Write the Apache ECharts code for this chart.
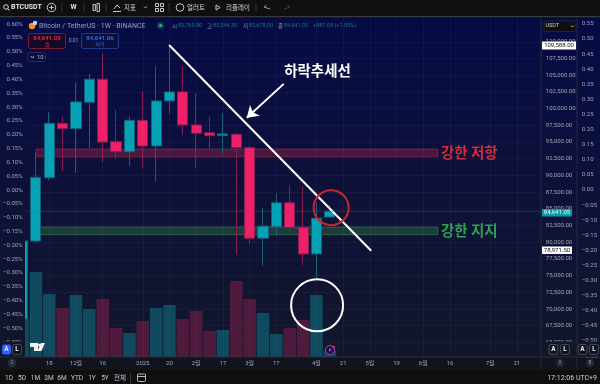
<!DOCTYPE html>
<html>
<head>
<meta charset="utf-8">
<style>html,body{margin:0;padding:0;background:#0f0f0f}#main{width:600px;height:384px}</style>
<script src="https://cdn.jsdelivr.net/npm/echarts@6/dist/echarts.min.js"></script>
</head>
<body>
<div id="main"></div>
<script>
// weekly candles: [index, open, close, low, high]
var candles = [
  [0, 68500, 80170, 66800, 81500], [1, 80170, 89716, 79900, 93350], [2, 89650, 97800, 89300, 99500],
  [3, 97800, 97000, 90700, 98800], [4, 97000, 101000, 90400, 103900], [5, 100950, 104400, 94100, 105200],
  [6, 104400, 95000, 92050, 108300], [7, 95050, 93550, 92450, 99800], [8, 93550, 98250, 91400, 98850],
  [9, 98250, 94400, 91050, 102600], [10, 94400, 101150, 89050, 106400], [11, 101150, 102500, 99300, 109500],
  [12, 102500, 97550, 96050, 106400], [13, 97550, 96300, 91150, 102300], [14, 96400, 95950, 93900, 98800],
  [15, 95950, 96200, 93300, 99350], [16, 96150, 94150, 78100, 96350], [17, 94150, 80600, 79850, 94300],
  [18, 80600, 82400, 76450, 85150], [19, 82300, 85900, 80900, 87300], [20, 85900, 82200, 81400, 88550],
  [21, 82200, 78250, 76600, 88400], [22, 78250, 83600, 74650, 85900], [23, 83760, 84641.05, 83678, 85544.3]
];
var volumes = [38, 85, 63, 49, 62, 48, 58, 29, 24, 36, 49, 52, 38, 46, 26, 27, 76, 58, 44, 23, 29, 37, 62, 6];

var timeTickIndex = [2, 4, 6, 9, 11, 13, 15, 17, 19, 22, 24, 26, 28, 30, 32, 35, 37];
var timeTickText = ['18', '12월', '16', '2025', '20', '2월', '17', '3월', '17', '4월', '21', '5월', '19', '6월', '16', '7월', '21'];
var priceTicks = [65000, 67500, 70000, 72500, 75000, 77500, 80000, 82500, 85000, 87500, 90000, 92500, 95000, 97500, 100000, 102500, 105000, 107500, 110000];
var leftPctTicks = [0.6, 0.55, 0.5, 0.45, 0.4, 0.35, 0.3, 0.25, 0.2, 0.15, 0.1, 0.05, 0, -0.05, -0.1, -0.15, -0.2, -0.25, -0.3, -0.35, -0.4, -0.45, -0.5, -0.55];
var rightPctTicks = [0.55, 0.5, 0.45, 0.4, 0.35, 0.3, 0.25, 0.2, 0.15, 0.1, 0.05, 0, -0.05, -0.1, -0.15, -0.2, -0.25, -0.3, -0.35, -0.4, -0.45, -0.5, -0.55];

// drawn annotations, in chart coordinates
var lastPrice = 84641.05;
var resistZone = [1, 31.1, 93950, 92800];
var supportZone = [1, 31.1, 82275, 81120];
var trendLine = [[10.97, 109520], [26.1, 78730]];
var arrowLine = [[19.55, 103700], [16.79, 98630]];
var redCircle = [23.1, 85170];
var whiteCircle = [22.05, 70555];

var TEAL = '#04a2b4', TEAL_DIM = '#175f78', RED = '#ee2068', RED_DIM = '#871c50';
var FONT = 'Roboto, "Noto Sans CJK KR", sans-serif';
var KR = '"Noto Sans CJK KR", sans-serif';
var AXIS_TXT = '#9ea6b6';
var bgStops = [
  { offset: 0.04, color: '#050a44' }, { offset: 0.33, color: '#0b0f3e' },
  { offset: 0.62, color: '#0f1335' }, { offset: 0.93, color: '#12162b' }
];

function txt(x, y, text, size, color, extra) {
  var style = { x: x, y: y, text: text, fontSize: size, fill: color, fontFamily: FONT, textVerticalAlign: 'middle' };
  for (var k in (extra || {})) style[k] = extra[k];
  return { type: 'text', z: 120, silent: true, style: style };
}
function box(x, y, w, h, fill, stroke, r, z) {
  return { type: 'rect', z: z || 110, silent: true, shape: { x: x, y: y, width: w, height: h, r: r || 0 },
    style: { fill: fill, stroke: stroke || 'none', lineWidth: 1 } };
}
function seg(x1, y1, x2, y2, color, w) {
  return { type: 'line', z: 115, silent: true, shape: { x1: x1, y1: y1, x2: x2, y2: y2 }, style: { stroke: color, lineWidth: w || 1 } };
}
function ring(x, y, r, color, fill, w) {
  return { type: 'circle', z: 115, silent: true, shape: { cx: x, cy: y, r: r }, style: { stroke: color, fill: fill || 'none', lineWidth: w || 1 } };
}
function alBtn(x, y, t, on) {
  return [box(x, y, 9, 10, on ? '#2962ff' : '#12151f', on ? 'none' : '#454a58', 2),
    txt(x + 4.5, y + 5, t, 6.5, '#e8eaf0', { textAlign: 'center', fontWeight: 'bold' })];
}

var gfx = [
  // bars top and bottom
  box(0, 0, 600, 16, '#0f0f0f'), box(0, 16, 600, 1.2, '#3a3a3a'),
  box(0, 357, 600, 13, '#11141f', null, 0, 5), seg(0, 357, 600, 357, '#2a2e3a'),
  box(0, 370, 600, 14, '#0f0f0f'),
  // left margin panel, hides the clipped part of the first candle; axis labels sit above it
  box(0, 17, 25, 340, { type: 'linear', x: 0, y: 0, x2: 0, y2: 384, global: true, colorStops: bgStops }, null, 0, 5),
  // strips that hide labels behind the A/L buttons
  box(0, 341.5, 24.5, 15.5, '#12162b'), box(541.5, 341.5, 58.5, 15.5, '#12162b'),
  seg(541, 17, 541, 370, '#262b3d'), seg(577, 17, 577, 370, '#262b3d'),

  // top toolbar
  ring(6, 7, 2.3, '#d8d8d8', 'none', 1), seg(7.7, 8.7, 9.6, 10.6, '#d8d8d8'),
  txt(11, 7.5, 'BTCUSDT', 7, '#e6e6e6', { fontWeight: 'bold' }),
  ring(51.5, 7.5, 4.2, '#c8c8c8'), seg(49.3, 7.5, 53.7, 7.5, '#c8c8c8'), seg(51.5, 5.3, 51.5, 9.7, '#c8c8c8'),
  seg(62, 3, 62, 12, '#333'),
  txt(73.5, 7.5, 'W', 7, '#e0e0e0', { textAlign: 'center', fontWeight: 'bold' }),
  seg(84, 3, 84, 12, '#333'),
  box(93, 4.5, 2.4, 6, 'none', '#c8c8c8'), box(97, 3.5, 2.4, 8, 'none', '#c8c8c8'),
  seg(106, 3, 106, 12, '#333'),
  seg(113, 11.5, 121, 11.5, '#c8c8c8'), seg(114, 9, 117, 5, '#c8c8c8'), seg(117, 5, 120, 8, '#c8c8c8'),
  txt(124, 7.5, '지표', 6.5, '#d8d8d8', { fontFamily: KR }),
  seg(144, 6.5, 145.5, 8, '#aaa'), seg(145.5, 8, 147, 6.5, '#aaa'),
  box(155.5, 3.5, 3, 3, 'none', '#c8c8c8'), box(160.5, 3.5, 3, 3, 'none', '#c8c8c8'),
  box(155.5, 8.5, 3, 3, 'none', '#c8c8c8'), box(160.5, 8.5, 3, 3, 'none', '#c8c8c8'),
  seg(169, 3, 169, 12, '#333'),
  ring(180, 7.5, 3.8, '#c8c8c8'),
  txt(187, 7.5, '얼러트', 6.5, '#d8d8d8', { fontFamily: KR }),
  seg(216, 5, 216, 10, '#c8c8c8'), seg(216, 5, 220, 7.5, '#c8c8c8'), seg(220, 7.5, 216, 10, '#c8c8c8'),
  txt(226, 7.5, '리플레이', 6.5, '#d8d8d8', { fontFamily: KR }),
  seg(256, 3, 256, 12, '#333'),
  seg(264, 7, 270, 9, '#9a9a9a'), seg(264, 7, 266.5, 5, '#9a9a9a'),
  seg(284, 9, 290, 7, '#3c3c3c'), seg(290, 7, 287.5, 5, '#3c3c3c'),

  // symbol legend
  ring(32, 26, 3.2, 'none', '#f7931a'), ring(35, 23, 2.2, 'none', '#c9d3e0'),
  txt(39, 26, 'Bitcoin / TetherUS · 1W · BINANCE', 7, '#9aa2b6'),
  ring(160.5, 25.5, 3.6, 'none', '#0d3f44'), ring(160.5, 25.5, 1.6, 'none', '#16c08a'),
  txt(172, 26, '시', 5.5, '#8d95a8', { fontFamily: KR }), txt(178, 26, '83,760.00', 5.5, '#0b7f93'),
  txt(207, 26, '고', 5.5, '#8d95a8', { fontFamily: KR }), txt(213, 26, '85,544.30', 5.5, '#0b7f93'),
  txt(243, 26, '저', 5.5, '#8d95a8', { fontFamily: KR }), txt(249, 26, '83,678.00', 5.5, '#0b7f93'),
  txt(278, 26, '종', 5.5, '#8d95a8', { fontFamily: KR }), txt(284, 26, '84,641.05', 5.5, '#0b7f93'),
  txt(313, 26, '+881.05 (+1.05%)', 5.5, '#0b7f93'),

  // sell/buy boxes
  box(28.5, 33.5, 37, 15, '#140a28', '#7c1c30', 2),
  txt(47, 38, '84,641.05', 6, '#e8243c', { textAlign: 'center', fontWeight: 'bold' }),
  txt(47, 44.5, '셀', 5, '#e8243c', { textAlign: 'center', fontFamily: KR }),
  txt(73.5, 41, '0.01', 5, '#9aa2b6', { textAlign: 'center' }),
  box(81.5, 33.5, 37, 15, '#0a0f3c', '#1f3c94', 2),
  txt(100, 38, '84,641.06', 6, '#2f6bf0', { textAlign: 'center', fontWeight: 'bold' }),
  txt(100, 44.5, '바이', 5, '#2f6bf0', { textAlign: 'center', fontFamily: KR }),
  box(27.5, 52.5, 18, 9, 'none', '#2a2f50', 2),
  seg(31, 56, 32.5, 58, '#aab'), seg(32.5, 58, 34, 56, '#aab'),
  txt(37, 57, '10', 6, '#b8bece'),

  // annotation text
  txt(317.5, 70, '하락추세선', 14.5, '#ffffff', { textAlign: 'center', fontFamily: KR, fontWeight: 'bold' }),
  txt(441, 152.5, '강한 저항', 14.5, '#d92b3a', { fontFamily: KR, fontWeight: 'bold' }),
  txt(441, 230, '강한 지지', 14.5, '#2ea352', { fontFamily: KR, fontWeight: 'bold' }),

  // price scale widgets
  box(544, 21, 32, 10.5, '#0d0d12', '#22252f', 1.5),
  txt(545.5, 26, 'USDT', 5.5, '#d0d0d0'),
  seg(571, 25.5, 572.5, 27, '#bbb'), seg(572.5, 27, 574, 25.5, '#bbb'),
  box(542, 41.5, 34, 8, '#ffffff'), txt(559, 45.5, '109,588.00', 6, '#111', { textAlign: 'center' }),
  box(542, 209, 30, 7.5, '#069bad'), txt(557, 212.8, '84,641.05', 6, '#e8fbff', { textAlign: 'center' }),
  box(542, 246.5, 30, 7.5, '#ffffff'), txt(557, 250.3, '78,971.50', 6, '#111', { textAlign: 'center' }),

  // tv logo
  { type: 'polygon', z: 120, silent: true, shape: { points: [[30, 343], [38, 343], [38, 351], [34, 351], [34, 347], [30, 347]] }, style: { fill: '#f2f2f2' } },
  ring(39.5, 345, 1.6, 'none', '#f2f2f2'),
  { type: 'polygon', z: 120, silent: true, shape: { points: [[41, 343], [45, 343], [41.5, 351], [37.5, 351]] }, style: { fill: '#f2f2f2' } },

  // event badge
  ring(330, 350, 4.6, '#a03cc8', '#1d1234', 1),
  { type: 'polygon', z: 120, silent: true, shape: { points: [[331, 347.5], [328.5, 350.5], [330, 350.5], [329, 352.5], [331.5, 349.5], [330, 349.5]] }, style: { fill: '#c77be8' } },
  ring(333.5, 347, 1.2, 'none', '#f23645'),

  // axis strip
  ring(12, 363, 4.5, 'none', '#262a36'), txt(12, 363, '2', 5, '#8d95a8', { textAlign: 'center' }),
  ring(560, 363, 4, 'none', '#262a36'), txt(560, 363, 'A', 4.5, '#8d95a8', { textAlign: 'center' }),
  ring(590, 363, 4, 'none', '#262a36'), txt(590, 363, 'B', 4.5, '#8d95a8', { textAlign: 'center' }),

  // bottom bar
  txt(9, 378, '1D', 6.5, '#c4c8d0', { textAlign: 'center' }), txt(22, 378, '5D', 6.5, '#c4c8d0', { textAlign: 'center' }),
  txt(35.5, 378, '1M', 6.5, '#c4c8d0', { textAlign: 'center' }), txt(49, 378, '3M', 6.5, '#c4c8d0', { textAlign: 'center' }),
  txt(62, 378, '6M', 6.5, '#c4c8d0', { textAlign: 'center' }), txt(77, 378, 'YTD', 6.5, '#c4c8d0', { textAlign: 'center' }),
  txt(92, 378, '1Y', 6.5, '#c4c8d0', { textAlign: 'center' }), txt(105, 378, '5Y', 6.5, '#c4c8d0', { textAlign: 'center' }),
  txt(120, 378, '전체', 6.5, '#c4c8d0', { textAlign: 'center', fontFamily: KR }),
  seg(130.5, 373, 130.5, 383, '#3a3a3a'),
  box(137.5, 374, 8, 7.5, 'none', '#b8b8b8', 1), seg(137.5, 376.5, 145.5, 376.5, '#b8b8b8'),
  txt(597, 378, '17:12:06 UTC+9', 7, '#d4d4d4', { textAlign: 'right' })
];
gfx = gfx.concat(alBtn(2, 344.5, 'A', true), alBtn(12.5, 344.5, 'L'), alBtn(549, 344.5, 'A'), alBtn(560.5, 344.5, 'L'), alBtn(578, 344.5, 'A'), alBtn(589.5, 344.5, 'L'));

function yAxisBase(min, max, ticks, fmt) {
  return {
    type: 'value', min: min, max: max, silent: true, scale: true, z: 10,
    axisLine: { show: false }, axisTick: { show: false, customValues: ticks }, splitLine: { show: false },
    axisLabel: { customValues: ticks, color: AXIS_TXT, fontSize: 6, fontFamily: FONT, formatter: fmt }
  };
}
function pct2(v) { return v.toFixed(2); }

var priceAxis = yAxisBase(62815, 113712, priceTicks, function (v) {
  return v.toLocaleString('en-US', { minimumFractionDigits: 2 });
});
priceAxis.position = 'right';
priceAxis.axisLabel.margin = 5;
priceAxis.z = 0;
priceAxis.splitLine = { show: true, lineStyle: { color: 'rgba(255,255,255,0.035)', width: 1 } };

var leftAxis = yAxisBase(-0.6038, 0.6255, leftPctTicks, function (v) { return pct2(v).replace('-', '−') + '%'; });
leftAxis.position = 'left';
leftAxis.axisLabel.margin = 4;

var rightAxis = yAxisBase(-0.553, 0.5728, rightPctTicks, function (v) { return pct2(v).replace('-', '−'); });
rightAxis.position = 'right';
rightAxis.offset = 36;
rightAxis.axisLabel.margin = 5;

var volAxis = { type: 'value', min: 0, max: 340, show: false };

var chart = echarts.init(document.getElementById('main'));
chart.setOption({
  animation: false,
  backgroundColor: { type: 'linear', x: 0, y: 0, x2: 0, y2: 1, colorStops: bgStops },
  grid: { left: 25, right: 59, top: 17, bottom: 27 },
  xAxis: {
    type: 'value', min: 0.3, max: 38.8, silent: true, z: 10,
    axisLine: { show: false }, axisTick: { show: false, customValues: timeTickIndex },
    splitLine: { show: true, z: 0, lineStyle: { color: 'rgba(255,255,255,0.035)', width: 1 } },
    axisLabel: { customValues: timeTickIndex, color: AXIS_TXT, fontSize: 6, margin: 3, fontFamily: FONT,
      formatter: function (v) { return timeTickText[timeTickIndex.indexOf(v)]; } }
  },
  yAxis: [priceAxis, leftAxis, rightAxis, volAxis],
  graphic: { elements: gfx },
  series: [
    {
      name: 'zones', type: 'line', data: [], z: 1, silent: true,
      markArea: { silent: true, data: [
        [{ coord: [resistZone[0], resistZone[2]], itemStyle: { color: 'rgba(170,40,75,0.38)', borderColor: 'rgba(190,55,85,0.45)', borderWidth: 1 } },
         { coord: [resistZone[1], resistZone[3]] }],
        [{ coord: [supportZone[0], supportZone[2]], itemStyle: { color: 'rgba(46,120,70,0.42)', borderColor: 'rgba(70,150,90,0.5)', borderWidth: 1 } },
         { coord: [supportZone[1], supportZone[3]] }]
      ] },
      markLine: { silent: true, symbol: 'none', label: { show: false },
        lineStyle: { color: '#0b7f93', type: 'dotted', width: 1, opacity: 0.7 }, data: [{ yAxis: lastPrice }] }
    },
    {
      name: 'volume', type: 'bar', yAxisIndex: 3, barWidth: 12.6, z: 2, silent: true,
      data: volumes.map(function (v, i) {
        var up = candles[i][2] >= candles[i][1];
        return { value: [i, v], itemStyle: { color: up ? '#0f4a5e' : '#4f1b3d' } };
      })
    },
    {
      name: 'BTCUSDT', type: 'candlestick', barWidth: 10.6, z: 3, silent: true,
      data: candles,
      itemStyle: { color: TEAL, color0: RED, borderColor: TEAL_DIM, borderColor0: RED_DIM, borderWidth: 1 }
    },
    {
      name: 'trend', type: 'line', data: trendLine, z: 4, silent: true, symbol: 'none',
      lineStyle: { color: '#ffffff', width: 2 },
      markLine: { silent: true, symbol: ['none', 'arrow'], symbolSize: 11, label: { show: false },
        lineStyle: { color: '#ffffff', width: 2, type: 'solid' },
        data: [[{ coord: arrowLine[0] }, { coord: arrowLine[1] }]] }
    },
    {
      name: 'redCircle', type: 'scatter', data: [redCircle], z: 4, silent: true, symbolSize: 35,
      itemStyle: { color: 'rgba(0,0,0,0)', borderColor: '#c4262e', borderWidth: 2, opacity: 1 }
    },
    {
      name: 'whiteCircle', type: 'scatter', data: [whiteCircle], z: 4, silent: true, symbolSize: 52,
      itemStyle: { color: 'rgba(0,0,0,0)', borderColor: '#ffffff', borderWidth: 2, opacity: 1 }
    }
  ]
});
</script>
</body>
</html>
